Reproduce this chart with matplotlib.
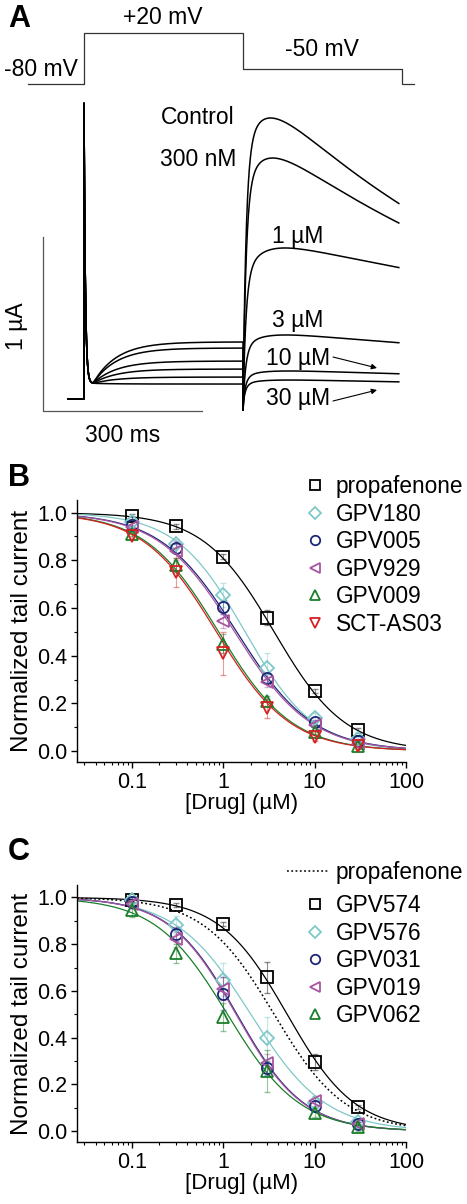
import numpy as np
import matplotlib
matplotlib.use("Agg")
import matplotlib.pyplot as plt
from matplotlib.lines import Line2D

plt.rcParams['font.family'] = ['Liberation Sans', 'DejaVu Sans']

# ---------------- data ----------------
# Panel A: voltage protocol
protocol_t_ms = [-106, 0, 300, 600, 622]
protocol_mV = [-80, 20, -50, -80, -80]

# Panel A: current traces (µA), one per condition
trace_labels = ["Control", "300 nM", "1 µM", "3 µM", "10 µM", "30 µM"]
step_steady_uA = [0.328, 0.293, 0.218, 0.172, 0.126, 0.086]
tail_peak_uA = [1.615, 1.385, 0.868, 0.368, 0.161, 0.109]
tail_tau_deact_ms = [575, 650, 1300, 1380, 1650, 1700]
step_dip_uA = 0.09
cap_spike_uA = 1.61
tail_dip_uA = -0.065

# Panel B
conc_uM = [0.1, 0.3, 1, 3, 10, 30]
b_names = ["propafenone", "GPV180", "GPV005", "GPV929", "GPV009", "SCT-AS03"]
b_vals = {
    "propafenone": [0.985, 0.943, 0.815, 0.560, 0.252, 0.087],
    "GPV180": [0.96, 0.87, 0.655, 0.350, 0.140, 0.050],
    "GPV005": [0.95, 0.85, 0.605, 0.305, 0.120, 0.040],
    "GPV929": [0.94, 0.84, 0.545, 0.290, 0.110, 0.030],
    "GPV009": [0.91, 0.78, 0.450, 0.210, 0.080, 0.020],
    "SCT-AS03": [0.90, 0.75, 0.410, 0.180, 0.060, 0.020],
}
b_err = {
    "propafenone": [0.01, 0.01, 0.01, 0.03, 0.01, 0.01],
    "GPV180": [0.01, 0.02, 0.05, 0.06, 0.02, 0.01],
    "GPV005": [0.01, 0.02, 0.03, 0.02, 0.01, 0.01],
    "GPV929": [0.01, 0.04, 0.03, 0.02, 0.01, 0.01],
    "GPV009": [0.01, 0.03, 0.04, 0.02, 0.01, 0.01],
    "SCT-AS03": [0.01, 0.06, 0.09, 0.04, 0.02, 0.01],
}
b_ic50 = [3.6, 1.73, 1.40, 1.33, 0.887, 0.84]
b_hill = [1.12, 1.15, 1.04, 1.04, 1.08, 1.08]

# Panel C
c_names = ["GPV574", "GPV576", "GPV031", "GPV019", "GPV062"]
c_vals = {
    "GPV574": [0.99, 0.967, 0.886, 0.659, 0.296, 0.104],
    "GPV576": [0.99, 0.882, 0.648, 0.400, 0.120, 0.040],
    "GPV031": [0.98, 0.844, 0.588, 0.270, 0.110, 0.030],
    "GPV019": [0.97, 0.820, 0.610, 0.290, 0.130, 0.030],
    "GPV062": [0.946, 0.761, 0.490, 0.256, 0.080, 0.020],
}
c_err = {
    "GPV574": [0.01, 0.01, 0.01, 0.066, 0.035, 0.01],
    "GPV576": [0.01, 0.04, 0.07, 0.09, 0.02, 0.01],
    "GPV031": [0.02, 0.03, 0.07, 0.03, 0.02, 0.01],
    "GPV019": [0.02, 0.03, 0.05, 0.04, 0.02, 0.01],
    "GPV062": [0.03, 0.04, 0.06, 0.09, 0.02, 0.02],
}
c_ic50 = [5.0, 2.0, 1.41, 1.38, 1.11]
c_hill = [1.17, 1.06, 1.18, 1.18, 1.10]
propafenone_ic50, propafenone_hill = 3.6, 1.12

# ---------------- styles ----------------
b_colors = ['#000000', '#7ec8c8', '#1c2778', '#a855a0', '#1a7f2a', '#d62020']
b_markers = ['s', 'D', 'o', '<', '^', 'v']
b_msize = [8, 7, 8, 8.5, 8.5, 8.5]
c_colors = ['#000000', '#7ec8c8', '#1c2778', '#a855a0', '#1a7f2a']
c_markers = ['s', 'D', 'o', '<', '^']
c_msize = [8, 7, 8, 8.5, 8.5]

W, H = 467, 1204
fig = plt.figure(figsize=(W / 100, H / 100), dpi=100)


def fx(x):
    return x / W


def fy(y):
    return 1 - y / H


# ---------------- Panel A ----------------
PX_PER_MS = 0.53
X0 = 84
PX_PER_UA = 174
Y0 = 399
PX_PER_MV = 0.51


def t_of(x):
    return (x - X0) / PX_PER_MS


def i_of(y):
    return (Y0 - y) / PX_PER_UA


ax_v = fig.add_axes([0, fy(95), 1, 95 / H])
ax_v.set_xlim(t_of(0), t_of(W))
ax_v.set_ylim(-80 - (95 - 84) / PX_PER_MV, -80 + 84 / PX_PER_MV)
ax_v.axis('off')
ax_v.plot(protocol_t_ms, protocol_mV, drawstyle='steps-post', color='#333333', lw=0.9)

ax_i = fig.add_axes([0, fy(445), 1, (445 - 95) / H])
ax_i.set_xlim(t_of(0), t_of(W))
ax_i.set_ylim(i_of(445), i_of(95))
ax_i.axis('off')

t_hold = np.linspace(-30, 0, 40)
t_step = np.linspace(0, 300, 3000)
t_tail = np.linspace(0, 294, 1500)
rise = 1 - 0.75 * np.exp(-t_tail / 6.0) - 0.25 * np.exp(-t_tail / 35.0)
for k in range(len(trace_labels)):
    ss = step_steady_uA[k]
    i_step = ss + (step_dip_uA - ss) * np.exp(-np.clip(t_step - 17, 0, None) / 45.0) \
        + cap_spike_uA * np.exp(-t_step / 2.5)
    g = rise * np.exp(-t_tail / tail_tau_deact_ms[k])
    amp = tail_peak_uA[k] / g.max()
    i_tail = amp * g + tail_dip_uA * np.exp(-t_tail / 2.0)
    tt = np.concatenate([t_hold, t_step, 300 + t_tail])
    ii = np.concatenate([np.zeros_like(t_hold), i_step, i_tail])
    ax_i.plot(tt, ii, color='black', lw=1.1)

# scale bars
sb_t0, sb_i0 = t_of(43), i_of(411)
scale_ms, scale_uA = 300, 1
ax_i.plot([sb_t0, sb_t0, sb_t0 + scale_ms], [sb_i0 + scale_uA, sb_i0, sb_i0],
          color='#555555', lw=0.9)

fs_a = 16.5
fig.text(fx(4), fy(70), '-80 mV', ha='left', va='center', fontsize=fs_a)
fig.text(fx(163), fy(18), '+20 mV', ha='center', va='center', fontsize=fs_a)
fig.text(fx(322), fy(50), '-50 mV', ha='center', va='center', fontsize=fs_a)
fig.text(fx(17), fy(326), '1 µA', ha='center', va='center', rotation=90, fontsize=fs_a)
fig.text(fx(123), fy(435), '300 ms', ha='center', va='center', fontsize=fs_a)
lab_pos = [(198, 118), (198, 160), (298, 237), (298, 321), (298, 358), (298, 399)]
for lab, (px, py) in zip(trace_labels, lab_pos):
    fig.text(fx(px), fy(py), lab, ha='center', va='center', fontsize=fs_a)
for (x1, y1, x2, y2) in [(333, 357, 377, 368), (333, 401, 377, 390)]:
    ax_i.annotate('', xy=(fx(x2), fy(y2)), xytext=(fx(x1), fy(y1)),
                  xycoords='figure fraction', textcoords='figure fraction',
                  arrowprops=dict(arrowstyle='-|>', lw=0.8, color='black',
                                  mutation_scale=8, shrinkA=0, shrinkB=0))

fig.text(fx(8), fy(19), 'A', fontsize=22, fontweight='bold', ha='left', va='center')
fig.text(fx(8), fy(478), 'B', fontsize=22, fontweight='bold', ha='left', va='center')
fig.text(fx(8), fy(852), 'C', fontsize=22, fontweight='bold', ha='left', va='center')


# ---------------- Panels B, C ----------------
def style_axes(ax):
    ax.set_xscale('log')
    ax.set_xlim(0.025, 100)
    ax.set_ylim(-0.046, 1.053)
    ax.set_yticks([0.0, 0.2, 0.4, 0.6, 0.8, 1.0])
    ax.set_yticks(np.arange(0.1, 1.0, 0.2), minor=True)
    ax.set_xticks([0.1, 1, 10, 100])
    ax.set_xticklabels(['0.1', '1', '10', '100'])
    ax.set_yticklabels(['0.0', '0.2', '0.4', '0.6', '0.8', '1.0'])
    for s in ['top', 'right']:
        ax.spines[s].set_visible(False)
    for s in ['left', 'bottom']:
        ax.spines[s].set_linewidth(1.0)
    ax.tick_params(which='major', direction='out', length=4.5, width=1.0,
                   labelsize=15.5, pad=2.5)
    ax.tick_params(which='minor', direction='out', length=2.5, width=0.8)
    ax.set_ylabel('Normalized tail current', fontsize=17.5, labelpad=3)
    ax.set_xlabel('[Drug] (µM)', fontsize=16, labelpad=0)


x_fit = np.logspace(np.log10(0.025), 2, 400)


def hill(x, ic, n):
    return 1.0 / (1.0 + (x / ic) ** n)


axB = fig.add_axes([fx(77), fy(762), (406 - 77) / W, (762 - 500) / H])
style_axes(axB)
handles = []
for k, name in enumerate(b_names):
    col = b_colors[k]
    axB.plot(x_fit, hill(x_fit, b_ic50[k], b_hill[k]), color=col, lw=0.9, zorder=2)
    axB.errorbar(conc_uM, b_vals[name], yerr=b_err[name], fmt='none', ecolor=col,
                 alpha=0.45, elinewidth=0.8, capsize=2.5, zorder=3)
    axB.plot(conc_uM, b_vals[name], linestyle='none', marker=b_markers[k],
             ms=b_msize[k], mfc='none', mec=col, mew=1.3, zorder=4)
    handles.append(Line2D([], [], linestyle='none', marker=b_markers[k],
                          ms=b_msize[k] * 0.85, mfc='none', mec=col, mew=1.3))
axB.legend(handles, b_names, loc='upper left', bbox_to_anchor=(fx(304), fy(475)),
           bbox_transform=fig.transFigure, frameon=False, handlelength=1.0,
           handletextpad=0.4, labelspacing=0.2, borderpad=0, borderaxespad=0,
           fontsize=16.3, numpoints=1)

axC = fig.add_axes([fx(77), fy(1142), (406 - 77) / W, (1142 - 885) / H])
style_axes(axC)
axC.plot(x_fit, hill(x_fit, propafenone_ic50, propafenone_hill), color='black',
         lw=1.1, linestyle=(0, (1.2, 1.6)), zorder=2)
handlesC = []
for k, name in enumerate(c_names):
    col = c_colors[k]
    axC.plot(x_fit, hill(x_fit, c_ic50[k], c_hill[k]), color=col, lw=0.9, zorder=2)
    axC.errorbar(conc_uM, c_vals[name], yerr=c_err[name], fmt='none', ecolor=col,
                 alpha=0.45, elinewidth=0.8, capsize=2.5, zorder=3)
    axC.plot(conc_uM, c_vals[name], linestyle='none', marker=c_markers[k],
             ms=c_msize[k], mfc='none', mec=col, mew=1.3, zorder=4)
    handlesC.append(Line2D([], [], linestyle='none', marker=c_markers[k],
                           ms=c_msize[k] * 0.85, mfc='none', mec=col, mew=1.3))
legP = axC.legend([Line2D([], [], color='black', lw=1.1, linestyle=(0, (1.2, 1.6)))],
                  ['propafenone'], loc='upper left', bbox_to_anchor=(fx(287), fy(861)),
                  bbox_transform=fig.transFigure, frameon=False, handlelength=1.8,
                  handletextpad=0.36, borderpad=0, borderaxespad=0, fontsize=16.3)
axC.add_artist(legP)
axC.legend(handlesC, c_names, loc='upper left', bbox_to_anchor=(fx(304), fy(894)),
           bbox_transform=fig.transFigure, frameon=False, handlelength=1.0,
           handletextpad=0.4, labelspacing=0.2, borderpad=0, borderaxespad=0,
           fontsize=16.3, numpoints=1)

fig.savefig('out.png', dpi=100)
